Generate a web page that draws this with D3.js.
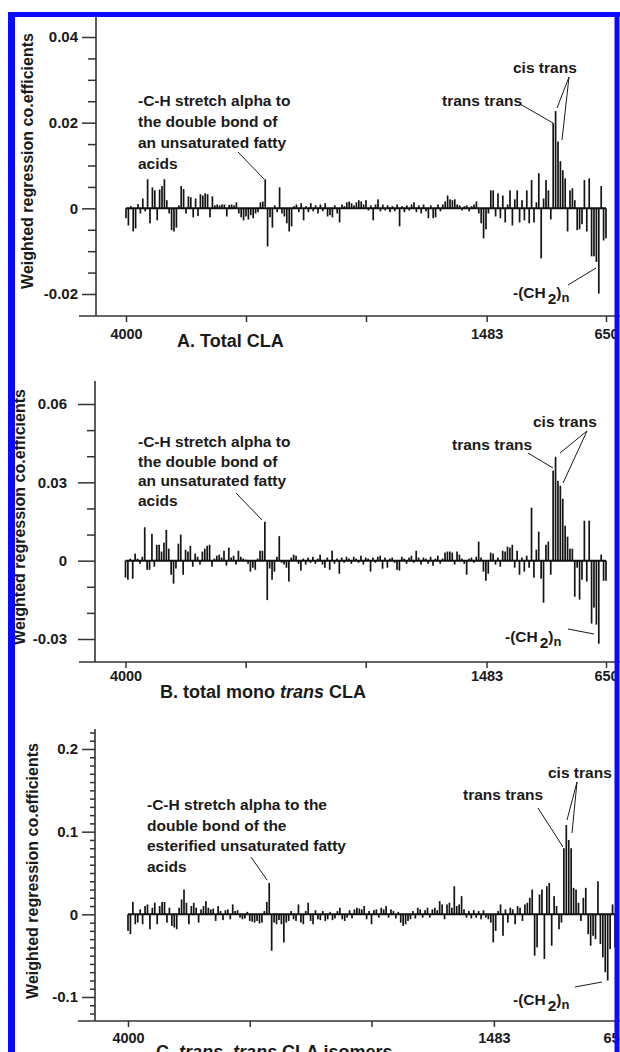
<!DOCTYPE html>
<html>
<head>
<meta charset="utf-8">
<title>Weighted regression coefficients</title>
<style>
  body { margin: 0; background: #fff; }
  svg { display: block; font-family: "Liberation Sans", Arial, sans-serif; font-weight: bold; }
  .note { font-size: 15.5px; fill: #1a1a1a; }
  .ylab { font-size: 16px; fill: #1a1a1a; }
  .ptitle { font-size: 18px; fill: #1a1a1a; }
</style>
</head>
<body>
<div id="chart"></div>
<script src="https://d3js.org/d3.v7.min.js"></script>
<script>
// spectral grid, cm-1 (4000 -> 650)
const wavenumbers = d3.range(201).map(i => 4000 - 16.75 * i);

const coefA = [
  -0.0023,-0.0040,0.0005,-0.0054,-0.0047,0.0010,-0.0012,0.0023,-0.0007,0.0068,
  -0.0035,0.0049,0.0042,-0.0028,0.0044,0.0052,0.0068,0.0019,-0.0012,-0.0051,
  -0.0054,-0.0045,0.0007,0.0052,0.0045,-0.0012,0.0028,0.0026,-0.0021,0.0023,
  -0.0018,0.0033,0.0030,0.0035,0.0033,-0.0021,0.0028,0.0007,0.0009,0.0007,
  0.0009,0.0009,-0.0019,0.0008,0.0009,0.0007,0.0014,-0.0012,-0.0021,-0.0028,
  -0.0019,-0.0026,-0.0016,-0.0023,-0.0012,-0.0009,0.0014,0.0016,0.0068,-0.0089,
  -0.0021,-0.0045,0.0007,-0.0009,0.0049,-0.0012,-0.0019,-0.0035,-0.0054,-0.0042,
  0.0005,0.0009,-0.0009,0.0012,-0.0028,0.0005,-0.0009,0.0012,-0.0007,0.0007,
  -0.0012,0.0009,-0.0007,0.0012,-0.0019,-0.0016,-0.0021,0.0007,-0.0012,-0.0033,
  0.0009,0.0005,0.0014,0.0016,0.0012,0.0007,0.0014,0.0019,0.0016,0.0009,
  0.0019,-0.0005,0.0007,-0.0028,0.0009,0.0021,-0.0007,0.0009,-0.0005,0.0007,
  -0.0009,0.0005,-0.0007,0.0009,-0.0042,0.0005,-0.0009,0.0007,-0.0005,0.0009,
  0.0014,-0.0009,0.0007,-0.0012,0.0009,-0.0007,-0.0023,0.0007,-0.0023,-0.0021,
  0.0009,-0.0007,0.0009,0.0016,0.0030,0.0021,0.0019,0.0021,0.0009,0.0007,
  -0.0005,0.0005,0.0007,-0.0007,0.0005,0.0009,0.0016,-0.0012,-0.0035,-0.0070,
  -0.0049,-0.0012,0.0042,0.0042,-0.0019,0.0035,-0.0023,0.0030,-0.0033,0.0009,
  0.0042,-0.0040,0.0021,0.0042,-0.0033,0.0019,-0.0028,0.0042,-0.0035,0.0066,
  -0.0033,0.0014,0.0082,-0.0117,0.0023,0.0066,0.0042,-0.0026,0.0199,0.0227,
  0.0156,0.0110,0.0089,0.0070,-0.0054,0.0042,0.0047,0.0019,-0.0051,-0.0049,
  -0.0037,0.0066,-0.0054,0.0070,-0.0112,-0.0112,-0.0125,-0.0199,0.0052,-0.0075,
  -0.0070
];

const coefB = [
  -0.0065,-0.0073,0.0008,-0.0069,0.0027,0.0008,-0.0012,0.0015,0.0128,-0.0035,
  -0.0035,0.0103,-0.0023,0.0061,0.0061,0.0035,0.0069,0.0118,0.0046,-0.0054,
  -0.0088,-0.0030,0.0065,0.0100,-0.0054,0.0042,0.0035,0.0057,-0.0023,0.0027,
  0.0015,-0.0015,0.0035,0.0046,0.0057,0.0061,-0.0023,0.0008,0.0019,0.0023,
  0.0012,0.0038,-0.0019,0.0050,0.0012,0.0019,-0.0015,0.0038,0.0015,0.0008,
  0.0004,-0.0012,-0.0042,-0.0027,-0.0035,0.0008,0.0038,0.0038,0.0149,-0.0151,
  -0.0030,-0.0073,-0.0042,0.0015,0.0094,-0.0008,-0.0015,-0.0027,-0.0080,0.0012,
  0.0023,0.0019,-0.0012,-0.0038,0.0008,-0.0015,0.0012,-0.0008,0.0015,-0.0012,
  0.0008,0.0023,-0.0015,-0.0027,0.0012,-0.0035,0.0038,-0.0012,0.0008,-0.0050,
  0.0012,-0.0008,0.0015,0.0008,-0.0012,0.0015,0.0008,-0.0008,0.0019,-0.0015,
  0.0012,0.0008,-0.0042,0.0012,-0.0008,0.0015,0.0019,-0.0031,0.0012,-0.0027,
  0.0008,0.0012,-0.0008,-0.0035,-0.0038,0.0015,0.0008,-0.0012,0.0012,0.0019,
  -0.0008,0.0038,0.0012,-0.0015,0.0012,0.0008,-0.0012,0.0015,-0.0019,0.0008,
  0.0019,-0.0012,0.0008,0.0031,0.0035,0.0035,0.0031,-0.0015,0.0035,0.0023,
  0.0008,-0.0012,-0.0054,0.0008,0.0012,-0.0008,0.0015,0.0073,0.0012,-0.0042,
  -0.0077,-0.0050,0.0031,0.0027,-0.0015,0.0012,-0.0023,0.0038,0.0035,0.0054,
  0.0050,0.0061,-0.0027,0.0038,-0.0054,0.0012,-0.0042,0.0019,-0.0027,0.0203,
  -0.0065,0.0042,0.0111,-0.0069,-0.0161,0.0061,0.0073,-0.0054,0.0345,0.0398,
  0.0306,0.0287,0.0237,0.0134,0.0092,0.0046,0.0046,-0.0138,-0.0027,-0.0149,
  -0.0073,0.0153,-0.0080,0.0153,-0.0241,-0.0180,-0.0245,-0.0318,0.0023,-0.0077,
  -0.0077
];

const coefC = [
  -0.020,-0.024,0.015,-0.012,-0.010,0.006,-0.012,0.010,0.012,-0.018,
  0.008,0.014,-0.012,0.010,0.015,0.015,-0.010,0.008,-0.014,-0.016,
  -0.018,0.008,0.018,0.030,0.014,-0.012,0.010,0.014,0.008,-0.010,
  0.006,0.010,0.016,0.008,0.006,0.007,-0.008,0.010,0.004,-0.007,
  0.005,0.006,-0.006,0.012,0.004,0.005,-0.004,-0.006,-0.005,0.003,
  -0.008,-0.009,-0.010,-0.008,-0.011,-0.010,0.004,0.015,0.038,-0.044,
  -0.010,-0.012,-0.007,-0.012,-0.034,-0.010,-0.008,0.004,-0.006,-0.008,
  0.012,-0.010,-0.012,0.004,0.014,-0.008,-0.012,0.005,-0.006,-0.007,
  0.004,-0.008,-0.006,0.003,-0.007,-0.005,0.004,0.008,-0.006,-0.008,
  -0.004,0.005,-0.005,0.006,0.008,0.007,0.006,0.010,-0.006,0.004,
  -0.012,0.005,0.006,-0.004,0.008,0.006,0.010,-0.004,0.006,0.004,
  -0.005,0.003,-0.010,-0.014,-0.012,-0.008,-0.006,0.004,-0.005,0.008,
  0.006,-0.004,0.005,0.008,-0.004,0.006,0.008,0.005,0.016,0.012,
  -0.006,0.012,0.014,0.008,0.034,0.010,0.012,0.022,0.006,-0.004,
  0.004,-0.005,0.005,-0.004,0.004,-0.006,0.005,-0.004,-0.006,-0.010,
  -0.034,-0.020,0.004,0.012,-0.026,0.006,-0.010,0.008,0.006,-0.012,
  0.010,0.008,-0.008,0.012,0.014,0.020,0.030,-0.050,-0.040,0.024,
  0.030,-0.054,0.034,0.038,-0.038,0.022,0.010,-0.018,-0.010,0.080,
  0.108,0.090,0.080,0.032,0.030,0.014,-0.008,0.020,0.032,-0.024,
  -0.038,-0.026,-0.030,0.040,-0.036,-0.052,-0.070,-0.080,-0.042,0.012,
  -0.040
];

const xTickValues = [4000, 3162.5, 2325, 1483, 650];
const xTickLabels = ["4000", "", "", "1483", "650"];

const yMajorA = [-0.02, 0, 0.02, 0.04];
const yLabelsA = ["-0.02", "0", "0.02", "0.04"];
const yMinorA = [-0.015, -0.01, -0.005, 0.005, 0.01, 0.015, 0.025, 0.03, 0.035];

const yMajorB = [-0.03, 0, 0.03, 0.06];
const yLabelsB = ["-0.03", "0", "0.03", "0.06"];
const yMinorB = [-0.02, -0.01, 0.01, 0.02, 0.04, 0.05];

const yMajorC = [-0.1, 0, 0.1, 0.2];
const yLabelsC = ["-0.1", "0", "0.1", "0.2"];
const yMinorC = [-0.12, -0.11, -0.09, -0.08, -0.07, -0.06, -0.05, -0.04, -0.03, -0.02, -0.01,
                 0.01, 0.02, 0.03, 0.04, 0.05, 0.06, 0.07, 0.08, 0.09,
                 0.11, 0.12, 0.13, 0.14, 0.15, 0.16, 0.17, 0.18, 0.19, 0.21, 0.22];

const yTitle = "Weighted regression co.efficients";
const titleA = [["A. Total CLA", false]];
const titleB = [["B. total mono ", false], ["trans", true], [" CLA", false]];
const titleC = [["C. ", false], ["trans", true], [", ", false], ["trans", true], [" CLA isomers", false]];

const noteAB = ["-C-H stretch alpha to", "the double bond of", "an unsaturated fatty", "acids"];
const noteC = ["-C-H stretch alpha to the", "double bond of the", "esterified unsaturated fatty", "acids"];
const labelTT = "trans trans";
const labelCT = "cis trans";

const panels = [
  { values: coefA, yMajor: yMajorA, yLabels: yLabelsA, yMinor: yMinorA, title: titleA, note: noteAB,
    xRange: [126, 606], yDomain: [-0.02, 0.04], yRange: [294, 37],
    axisX: 96, yTop: 17, xAxisY: 316, xAxisStart: 79, majorLen: 14, minorLen: 8, yPad: 4, xPad: 7,
    titlePos: [177, 347], yLabPos: [33, 161],
    notePos: [138, 106, 21], noteLine: [[238, 152], [264, 179]],
    ttPos: [442, 106], ttLine: [[520, 104], [553, 123]],
    ctPos: [513, 73], ctLines: [[[569, 77], [557, 108]], [[569, 77], [562, 140]]],
    chPos: [513, 298], chLine: [[568, 285], [596, 268]] },
  { values: coefB, yMajor: yMajorB, yLabels: yLabelsB, yMinor: yMinorB, title: titleB, note: noteAB,
    xRange: [125.5, 606], yDomain: [-0.03, 0.06], yRange: [639, 404],
    axisX: 95, yTop: 381, xAxisY: 662, xAxisStart: 79, majorLen: 17, minorLen: 8, yPad: 11, xPad: 3,
    titlePos: [160, 698], yLabPos: [25, 517],
    notePos: [138, 447, 19.5], noteLine: [[236, 493], [262, 520]],
    ttPos: [452, 450], ttLine: [[528, 453], [553, 468]],
    ctPos: [533, 427], ctLines: [[[587, 431], [560, 453]], [[587, 431], [563, 483]]],
    chPos: [505, 642], chLine: [[568, 629], [594, 634]] },
  { values: coefC, yMajor: yMajorC, yLabels: yLabelsC, yMinor: yMinorC, title: titleC, note: noteC,
    xRange: [128, 615], yDomain: [-0.1, 0.2], yRange: [997, 749],
    axisX: 95, yTop: 729, xAxisY: 1021, xAxisStart: 78, majorLen: 13, minorLen: 5, yPad: 4, xPad: 6,
    titlePos: [156, 1058], yLabPos: [38, 871],
    notePos: [147, 810, 20.5], noteLine: [[251, 857], [267, 880]],
    ttPos: [463, 800], ttLine: [[538, 808], [563, 847]],
    ctPos: [548, 778], ctLines: [[[577, 782], [567, 820]], [[577, 782], [572, 833]]],
    chPos: [513, 1005], chLine: [[575, 987], [602, 982]] }
];

const width = 620, height = 1052, barW = 1.7, ink = "#1a1a1a";

const svg = d3.select("#chart").append("svg")
  .attr("width", width).attr("height", height);

svg.append("rect").attr("width", width).attr("height", height).attr("fill", "#fff");

function seg(g, a, b) {
  g.append("line")
    .attr("x1", a[0]).attr("y1", a[1]).attr("x2", b[0]).attr("y2", b[1])
    .attr("stroke", ink).attr("stroke-width", 1);
}

function styleAxis(sel) {
  sel.select(".domain").remove();
  sel.attr("font-family", null).attr("font-size", 15).attr("font-weight", "bold");
  sel.selectAll(".tick line").attr("stroke", "#333").attr("stroke-width", 1.5);
  sel.selectAll(".tick text").attr("fill", ink);
}

panels.forEach(p => {
  const x = d3.scaleLinear().domain([4000, 650]).range(p.xRange);
  const y = d3.scaleLinear().domain(p.yDomain).range(p.yRange);
  const g = svg.append("g");

  // bars
  g.selectAll("rect.bar")
    .data(p.values)
    .join("rect")
    .attr("class", "bar")
    .attr("x", (d, i) => x(wavenumbers[i]) - barW / 2)
    .attr("y", d => Math.min(y(d), y(0)))
    .attr("width", barW)
    .attr("height", d => Math.abs(y(d) - y(0)))
    .attr("fill", "#141414");

  // zero line
  g.append("line")
    .attr("x1", x(4000)).attr("x2", x(650))
    .attr("y1", y(0)).attr("y2", y(0))
    .attr("stroke", "#111").attr("stroke-width", 2);

  // axis lines
  g.append("line")
    .attr("x1", p.axisX).attr("x2", p.axisX).attr("y1", p.yTop).attr("y2", p.xAxisY)
    .attr("stroke", "#333").attr("stroke-width", 1.6);
  g.append("line")
    .attr("x1", p.xAxisStart).attr("x2", width).attr("y1", p.xAxisY).attr("y2", p.xAxisY)
    .attr("stroke", "#333").attr("stroke-width", 1.6);

  g.append("g")
    .attr("transform", `translate(${p.axisX},0)`)
    .call(d3.axisLeft(y).tickValues(p.yMinor).tickSize(p.minorLen).tickFormat(""))
    .call(styleAxis);

  g.append("g")
    .attr("transform", `translate(${p.axisX},0)`)
    .call(d3.axisLeft(y).tickValues(p.yMajor).tickSize(p.majorLen).tickPadding(p.yPad)
      .tickFormat((d, i) => p.yLabels[i]))
    .call(styleAxis);

  g.append("g")
    .attr("transform", `translate(0,${p.xAxisY})`)
    .call(d3.axisBottom(x).tickValues(xTickValues).tickSize(6).tickPadding(p.xPad)
      .tickFormat((d, i) => xTickLabels[i]))
    .call(styleAxis)
    .call(s => s.selectAll(".tick text").attr("font-size", 14.5));

  // y title
  g.append("text")
    .attr("class", "ylab")
    .attr("transform", `translate(${p.yLabPos[0]},${p.yLabPos[1]}) rotate(-90)`)
    .attr("text-anchor", "middle")
    .text(yTitle);

  // panel title
  const t = g.append("text").attr("class", "ptitle")
    .attr("x", p.titlePos[0]).attr("y", p.titlePos[1]);
  p.title.forEach(([s, it]) => {
    t.append("tspan").attr("font-style", it ? "italic" : null).text(s);
  });

  // band note
  p.note.forEach((line, i) => {
    g.append("text").attr("class", "note")
      .attr("x", p.notePos[0]).attr("y", p.notePos[1] + i * p.notePos[2])
      .text(line);
  });
  seg(g, p.noteLine[0], p.noteLine[1]);

  g.append("text").attr("class", "note").attr("x", p.ttPos[0]).attr("y", p.ttPos[1]).text(labelTT);
  seg(g, p.ttLine[0], p.ttLine[1]);

  g.append("text").attr("class", "note").attr("x", p.ctPos[0]).attr("y", p.ctPos[1]).text(labelCT);
  p.ctLines.forEach(l => seg(g, l[0], l[1]));

  const ch = g.append("text").attr("class", "note").attr("x", p.chPos[0]).attr("y", p.chPos[1]);
  ch.append("tspan").text("-(CH");
  ch.append("tspan").attr("dx", 2).attr("dy", 6).text("2");
  ch.append("tspan").attr("dy", -6).text(")");
  ch.append("tspan").attr("dy", 4).attr("font-size", 13).text("n");
  seg(g, p.chLine[0], p.chLine[1]);
});

// blue frame
const frame = "#0a0aff";
svg.append("line").attr("x1", 11.5).attr("x2", 11.5).attr("y1", 12).attr("y2", height)
  .attr("stroke", frame).attr("stroke-width", 7);
svg.append("line").attr("x1", 8).attr("x2", width).attr("y1", 14.5).attr("y2", 14.5)
  .attr("stroke", frame).attr("stroke-width", 5);
svg.append("line").attr("x1", 617).attr("x2", 617).attr("y1", 12).attr("y2", height)
  .attr("stroke", frame).attr("stroke-width", 5);
</script>
</body>
</html>
